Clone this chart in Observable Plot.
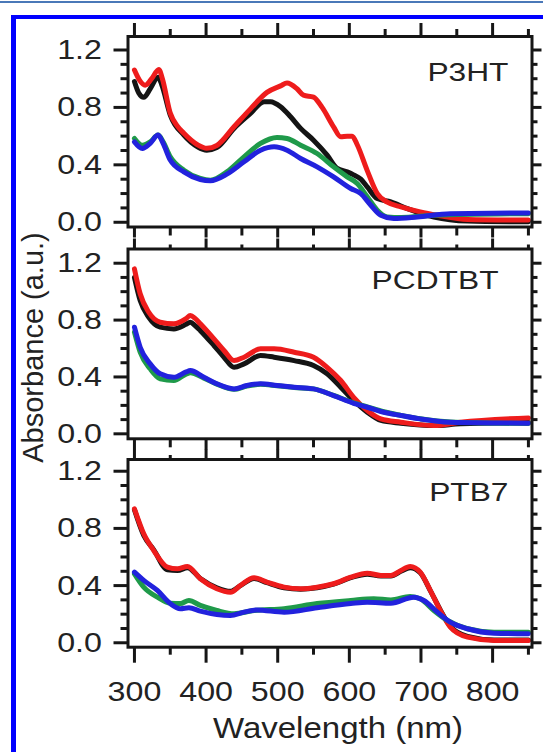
<!DOCTYPE html>
<html><head><meta charset="utf-8">
<script src="https://cdn.jsdelivr.net/npm/d3@7"></script>
<script src="https://cdn.jsdelivr.net/npm/@observablehq/plot@0.6"></script>
<style>
html,body{margin:0;padding:0;background:#fff;}
#fig{position:relative;width:543px;height:752px;overflow:hidden;background:#fff;}
#fig svg{position:absolute;left:0;}
.deco{position:absolute;z-index:5;}
</style></head><body>
<div id="fig"></div>
<script>
// ---------- data ----------
const wavelengthTicks = [300, 400, 500, 600, 700, 800];
const wavelengthMinorTicks = [350, 450, 550, 650, 750, 850];
const absorbanceTicks = [0, 0.4, 0.8, 1.2];
const absorbanceMinorTicks = [0.1, 0.2, 0.3, 0.5, 0.6, 0.7, 0.9, 1.0, 1.1];
const panelNames = ["P3HT", "PCDTBT", "PTB7"];
const seriesColors = ["#141414", "#ee1c1c", "#1f9a4a", "#2222dd"]; // black, red, green, blue

// P3HT
const p3ht_black = [[300,0.98],[306,0.9],[313,0.87],[322,0.93],[333,1.01],[338,0.96],[350,0.747],[369,0.607],[388,0.526],[401,0.502],[415,0.52],[439,0.654],[462,0.758],[481,0.84],[490,0.84],[504,0.805],[518,0.735],[532,0.654],[550,0.572],[569,0.468],[583,0.375],[597,0.351],[606,0.33],[616,0.3],[625,0.246],[639,0.165],[658,0.142],[681,0.095],[718,0.037],[765,0.009],[850,0.003]];
const p3ht_red = [[300,1.06],[307,0.99],[315,0.955],[324,1.0],[334,1.065],[339,1.0],[350,0.76],[360,0.67],[369,0.62],[388,0.54],[401,0.515],[415,0.535],[439,0.665],[462,0.79],[485,0.905],[504,0.95],[513,0.97],[527,0.93],[536,0.885],[550,0.872],[562,0.8],[578,0.665],[588,0.595],[597,0.6],[604,0.6],[611,0.54],[625,0.36],[639,0.2],[653,0.14],[672,0.107],[699,0.072],[723,0.049],[765,0.02],[850,0.015]];
const p3ht_green = [[300,0.584],[311,0.537],[322,0.56],[333,0.607],[340,0.56],[350,0.456],[369,0.363],[392,0.305],[406,0.293],[429,0.351],[453,0.456],[476,0.549],[499,0.591],[513,0.584],[532,0.537],[555,0.479],[578,0.386],[597,0.316],[611,0.27],[625,0.177],[639,0.084],[653,0.037],[672,0.033],[718,0.049],[850,0.06]];
const p3ht_blue = [[300,0.56],[311,0.514],[322,0.55],[333,0.607],[340,0.55],[350,0.433],[369,0.351],[392,0.298],[406,0.289],[429,0.335],[453,0.421],[476,0.502],[495,0.526],[513,0.502],[532,0.444],[555,0.386],[578,0.316],[602,0.235],[616,0.2],[630,0.119],[644,0.049],[662,0.026],[695,0.037],[741,0.06],[850,0.065]];

// PCDTBT
const pcdtbt_black = [[300,1.1],[308,0.937],[320,0.82],[336,0.75],[355,0.738],[372,0.77],[378,0.785],[385,0.76],[392,0.726],[411,0.621],[425,0.539],[439,0.468],[453,0.492],[476,0.551],[495,0.539],[523,0.515],[550,0.48],[569,0.422],[588,0.328],[606,0.234],[625,0.152],[644,0.094],[672,0.075],[718,0.058],[755,0.07],[850,0.08]];
const pcdtbt_red = [[300,1.16],[308,0.985],[320,0.855],[336,0.785],[355,0.774],[372,0.81],[378,0.832],[385,0.81],[392,0.774],[411,0.668],[425,0.586],[439,0.515],[453,0.539],[476,0.598],[495,0.598],[523,0.574],[550,0.539],[569,0.468],[588,0.375],[606,0.257],[625,0.164],[644,0.105],[672,0.082],[718,0.058],[755,0.082],[850,0.112]];
const pcdtbt_green = [[300,0.715],[308,0.574],[322,0.457],[336,0.387],[355,0.375],[372,0.42],[378,0.43],[397,0.392],[415,0.35],[439,0.313],[457,0.336],[476,0.348],[499,0.338],[523,0.326],[550,0.316],[578,0.27],[606,0.218],[625,0.19],[648,0.155],[672,0.13],[699,0.106],[741,0.083],[850,0.072]];
const pcdtbt_blue = [[300,0.75],[308,0.609],[322,0.492],[336,0.422],[355,0.398],[372,0.435],[378,0.445],[397,0.398],[415,0.352],[439,0.316],[457,0.34],[476,0.352],[499,0.34],[523,0.328],[550,0.316],[578,0.269],[606,0.215],[625,0.187],[648,0.152],[672,0.129],[699,0.105],[741,0.082],[850,0.075]];

// PTB7
const ptb7_black = [[300,0.93],[313,0.75],[327,0.65],[346,0.51],[360,0.505],[374,0.525],[392,0.45],[415,0.385],[434,0.36],[448,0.4],[467,0.45],[485,0.42],[509,0.385],[532,0.375],[555,0.385],[578,0.41],[602,0.455],[625,0.48],[644,0.467],[658,0.467],[672,0.5],[685,0.525],[699,0.49],[713,0.365],[727,0.23],[741,0.115],[765,0.045],[802,0.02],[850,0.02]];
const ptb7_red = [[300,0.937],[313,0.762],[327,0.645],[346,0.529],[360,0.517],[374,0.534],[392,0.448],[415,0.378],[434,0.354],[448,0.401],[467,0.455],[485,0.424],[509,0.389],[532,0.378],[555,0.389],[578,0.413],[602,0.459],[625,0.487],[644,0.471],[658,0.471],[672,0.506],[685,0.534],[699,0.494],[713,0.366],[727,0.226],[741,0.109],[765,0.039],[802,0.016],[850,0.016]];
const ptb7_green = [[300,0.482],[313,0.389],[332,0.319],[350,0.277],[364,0.274],[376,0.296],[392,0.261],[415,0.226],[439,0.203],[467,0.226],[509,0.238],[555,0.274],[602,0.296],[634,0.308],[658,0.3],[685,0.324],[699,0.308],[718,0.226],[737,0.156],[765,0.098],[802,0.074],[850,0.074]];
const ptb7_blue = [[300,0.494],[313,0.436],[332,0.366],[350,0.274],[364,0.238],[376,0.245],[392,0.221],[415,0.198],[434,0.191],[453,0.214],[471,0.23],[509,0.214],[555,0.245],[602,0.274],[625,0.284],[658,0.277],[690,0.319],[704,0.296],[723,0.214],[741,0.144],[765,0.098],[802,0.067],[850,0.063]];

const panelSeries = [
  [p3ht_black, p3ht_red, p3ht_green, p3ht_blue],
  [pcdtbt_black, pcdtbt_red, pcdtbt_green, pcdtbt_blue],
  [ptb7_black, ptb7_red, ptb7_green, ptb7_blue]
];

// ---------- layout ----------
const W = 543;
const FONT = "'Liberation Sans', Arial, Helvetica, sans-serif";
const INK = "#161616";
const layouts = [
  {top: 0,   height: 238, mt: 36,   mb: 11.5,  yDomain: [-0.033, 1.294], topMajor: 14, topMinor: 8, botMajor: 11, botMinor: 9, label: {dx: -23.5, dy: 44}},
  {top: 238, height: 211, mt: 10.5, mb: 10.7,  yDomain: [-0.035, 1.30],  topMajor: 11, topMinor: 5, botMajor: 11, botMinor: 9, label: {dx: -33.5, dy: 39.5}},
  {top: 449, height: 303, mt: 10,   mb: 105.3, yDomain: [-0.031, 1.282], topMajor: 11, topMinor: 5, botMajor: 16, botMinor: 8, label: {dx: -23.5, dy: 41}}
];

const fig = document.getElementById("fig");

layouts.forEach((L, k) => {
  const marks = [];
  panelSeries[k].forEach((data, s) => {
    marks.push(Plot.line(data, {x: d => d[0], y: d => d[1], stroke: seriesColors[s], strokeWidth: 5, curve: "monotone-x", strokeLinejoin: "round", strokeLinecap: "round"}));
  });
  marks.push(Plot.frame({stroke: INK, strokeWidth: 3}));
  // left axis
  marks.push(Plot.axisY(absorbanceTicks, {anchor: "left", tickSize: 14, tickPadding: 12, tickFormat: d3.format(".1f"), fontSize: 28, strokeWidth: 3, stroke: INK, fill: "#222", label: null}));
  marks.push(Plot.axisY(absorbanceMinorTicks, {anchor: "left", tickSize: 7, strokeWidth: 3, stroke: INK, fill: "none", label: null}));
  // right axis
  marks.push(Plot.axisY(absorbanceTicks, {anchor: "right", tickSize: 9, strokeWidth: 3, stroke: INK, fill: "none", label: null}));
  marks.push(Plot.axisY(absorbanceMinorTicks, {anchor: "right", tickSize: 5, strokeWidth: 3, stroke: INK, fill: "none", label: null}));
  // top axis
  marks.push(Plot.axisX(wavelengthTicks, {anchor: "top", tickSize: L.topMajor, strokeWidth: 3, stroke: INK, fill: "none", label: null}));
  marks.push(Plot.axisX(wavelengthMinorTicks, {anchor: "top", tickSize: L.topMinor, strokeWidth: 3, stroke: INK, fill: "none", label: null}));
  // bottom axis
  if (k === 2) {
    marks.push(Plot.axisX(wavelengthTicks, {anchor: "bottom", tickSize: L.botMajor, tickPadding: 18, fontSize: 28, strokeWidth: 3, stroke: INK, fill: "#222", label: null}));
  } else {
    marks.push(Plot.axisX(wavelengthTicks, {anchor: "bottom", tickSize: L.botMajor, strokeWidth: 3, stroke: INK, fill: "none", label: null}));
  }
  marks.push(Plot.axisX(wavelengthMinorTicks, {anchor: "bottom", tickSize: L.botMinor, strokeWidth: 3, stroke: INK, fill: "none", label: null}));
  // panel name
  marks.push(Plot.text([panelNames[k]], {text: d => d, frameAnchor: "top-right", textAnchor: "end", lineAnchor: "bottom", dx: L.label.dx, dy: L.label.dy, fontSize: 26, fill: "#222"}));
  if (k === 1) {
    marks.push(Plot.text(["Absorbance (a.u.)"], {text: d => d, frameAnchor: "left", rotate: -90, textAnchor: "middle", lineAnchor: "middle", dx: -94, dy: 3.6, fontSize: 29, fill: "#222"}));
  }
  if (k === 2) {
    marks.push(Plot.text(["Wavelength (nm)"], {text: d => d, frameAnchor: "bottom", textAnchor: "middle", lineAnchor: "bottom", dx: 8, dy: 90.3, fontSize: 30, fill: "#222"}));
  }
  const svg = Plot.plot({
    width: W, height: L.height,
    marginTop: L.mt, marginBottom: L.mb, marginLeft: 127.5, marginRight: 11.5,
    x: {domain: [291, 855]},
    y: {domain: L.yDomain},
    style: {background: "transparent", overflow: "visible", fontFamily: FONT, color: INK},
    marks
  });
  svg.style.top = L.top + "px";
  fig.appendChild(svg);
  // horizontal stretch of glyphs as in the reference
  const stretch = (sel, f) => svg.querySelectorAll(sel).forEach(t => {
    const len = t.getComputedTextLength();
    if (len > 0) { t.setAttribute("textLength", (len * f).toFixed(1)); t.setAttribute("lengthAdjust", "spacingAndGlyphs"); }
  });
  stretch('g[font-size="28"] text', 1.15);
  stretch('g[font-size="26"] text', 1.22);
  stretch('g[font-size="30"] text', 1.1);
});

// decorative page frame
const deco = (l, t, w, h, c) => { const d = document.createElement("div"); d.className = "deco"; Object.assign(d.style, {left: l + "px", top: t + "px", width: w + "px", height: h + "px", background: c}); fig.appendChild(d); };
deco(0, 1, 543, 2, "#4a78b8");
deco(11, 15, 532, 4, "#0000ff");
deco(11, 15, 5, 737, "#0000ff");
</script>
</body></html>
